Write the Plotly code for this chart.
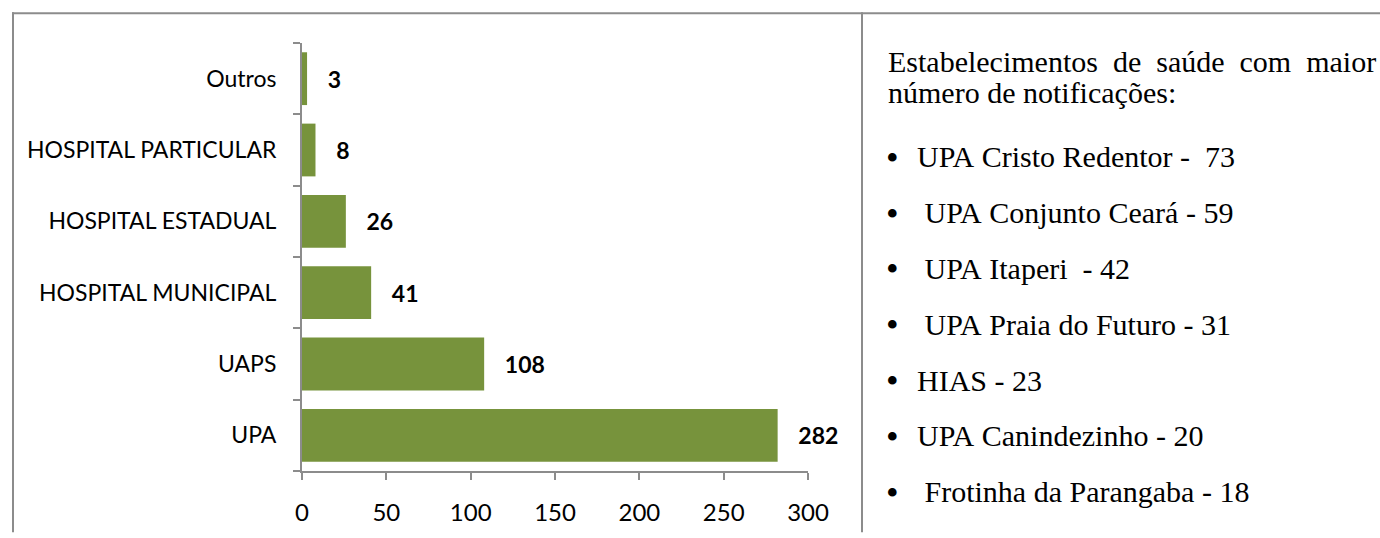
import plotly.graph_objects as go

# chart data (bottom to top, as drawn)
categories = ["UPA", "UAPS", "HOSPITAL MUNICIPAL", "HOSPITAL ESTADUAL",
              "HOSPITAL PARTICULAR", "Outros"]
notifications = [282, 108, 41, 26, 8, 3]
x_ticks = [0, 50, 100, 150, 200, 250, 300]

# side panel text
intro_words = ["Estabelecimentos", "de", "saúde", "com", "maior"]
intro_line2 = "número de notificações:"
top_units = [
    "UPA Cristo Redentor -  73",
    " UPA Conjunto Ceará - 59",
    " UPA Itaperi  - 42",
    " UPA Praia do Futuro - 31",
    "HIAS - 23",
    "UPA Canindezinho - 20",
    " Frotinha da Parangaba - 18",
]

W, H = 1380, 538
L, R, T, B = 302, 808, 43, 476  # plot area in pixels
BAR = "#77933C"
GREY = "#8c8c8c"
SANS = "Lato, 'Open Sans', sans-serif"
SERIF = "'Liberation Serif', 'Times New Roman', serif"


def px(x):
    return (x - L) / (R - L)


def py(y):
    return (B - y) / (B - T)


fig = go.Figure()
fig.add_trace(
    go.Bar(
        x=notifications,
        y=categories,
        orientation="h",
        marker=dict(color=BAR, line=dict(width=0)),
        text=notifications,
        texttemplate="\u00a0\u00a0\u00a0<b>%{x}</b>",
        textposition="outside",
        textfont=dict(family=SANS, size=23, color="black"),
        constraintext="none",
        cliponaxis=False,
        hoverinfo="skip",
    )
)

fig.update_layout(
    width=W,
    height=H,
    autosize=False,
    margin=dict(l=L, r=W - R, t=T, b=H - B),
    paper_bgcolor="white",
    plot_bgcolor="white",
    showlegend=False,
    bargap=0.26,
    font=dict(family=SANS, size=23, color="black"),
)
fig.update_xaxes(
    range=[0, 300],
    tickvals=x_ticks,
    ticks="outside",
    ticklen=7,
    tickwidth=2,
    tickcolor=GREY,
    showline=True,
    linecolor=GREY,
    linewidth=2,
    showgrid=False,
    zeroline=False,
    ticklabelstandoff=12,
    tickfont=dict(family=SANS, size=24, color="black"),
)
fig.update_yaxes(
    range=[-0.5, 5.5],
    categoryorder="array",
    categoryarray=categories,
    ticks="outside",
    tickson="boundaries",
    ticklen=7,
    tickwidth=2,
    tickcolor=GREY,
    showline=True,
    linecolor=GREY,
    linewidth=2,
    showgrid=False,
    zeroline=False,
    ticklabelstandoff=19,
    tickfont=dict(family=SANS, size=23, color="black"),
)

# frame around the figure and the divider between chart and text
line = dict(color=GREY, width=2)
fig.add_shape(type="line", xref="paper", yref="paper",
              x0=px(12), x1=px(W), y0=py(13), y1=py(13), line=line)
fig.add_shape(type="line", xref="paper", yref="paper",
              x0=px(13), x1=px(13), y0=py(12), y1=py(H), line=line)
fig.add_shape(type="line", xref="paper", yref="paper",
              x0=px(862), x1=px(862), y0=py(12), y1=py(H), line=line)

# side text
nb = "\u00a0\u00a0"
fig.add_annotation(
    x=px(886), y=py(62), xref="paper", yref="paper",
    text=nb.join(intro_words), showarrow=False,
    xanchor="left", yanchor="middle",
    font=dict(family=SERIF, size=30, color="black"),
)
fig.add_annotation(
    x=px(886), y=py(93), xref="paper", yref="paper",
    text=intro_line2, showarrow=False,
    xanchor="left", yanchor="middle",
    font=dict(family=SERIF, size=30, color="black"),
)
for i, item in enumerate(top_units):
    yc = 158 + i * 56.5
    fig.add_annotation(
        x=px(892), y=py(yc + 1), xref="paper", yref="paper",
        text="•", showarrow=False, xanchor="center", yanchor="middle",
        font=dict(family=SERIF, size=36, color="black"),
    )
    fig.add_annotation(
        x=px(915), y=py(yc), xref="paper", yref="paper",
        text=item.replace(" ", "\u00a0"), showarrow=False,
        xanchor="left", yanchor="middle",
        font=dict(family=SERIF, size=30, color="black"),
    )

fig.write_html(
    "out.html",
    config={"displayModeBar": False},
    post_script="document.body.style.margin='0';document.body.style.overflow='hidden';",
)
